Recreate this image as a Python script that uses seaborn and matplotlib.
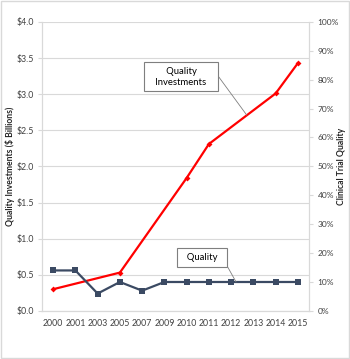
import matplotlib
matplotlib.use("Agg")
import matplotlib.pyplot as plt
import matplotlib.ticker as mticker
from matplotlib.patches import Rectangle
import numpy as np
import pandas as pd
import seaborn as sns

sns.set_theme(style="white")
plt.rcParams["font.family"] = ["Lato", "DejaVu Sans"]

# dati
anni = ["2000", "2001", "2003", "2005", "2007", "2009",
        "2010", "2011", "2012", "2013", "2014", "2015"]
investimenti = [0.30, None, None, 0.53, None, None,
                1.84, 2.31, None, None, 3.01, 3.43]      # $ miliardi
qualita = [0.14, 0.14, 0.06, 0.10, 0.07, 0.10,
           0.10, 0.10, 0.10, 0.10, 0.10, 0.10]           # frazione

df = pd.DataFrame({"anno": anni, "inv": investimenti, "qual": qualita})
df["pos"] = np.arange(len(anni))
df_inv = df.dropna(subset=["inv"])

rosso = "#ff0000"
blu = "#3b4a63"
griglia = "#d9d9d9"
testo = "#404040"

fig = plt.figure(figsize=(3.5, 3.59), dpi=100)
ax = fig.add_axes([0.12, 0.134, 0.763, 0.805])
ax2 = ax.twinx()

sns.lineplot(data=df, x="pos", y="qual", ax=ax2, color=blu, linewidth=1.6,
             marker="s", markersize=4.5, markeredgewidth=0)
sns.lineplot(data=df_inv, x="pos", y="inv", ax=ax, color=rosso, linewidth=1.6,
             marker="D", markersize=3, markeredgewidth=0)

# assi e griglia
ax.set_ylim(0, 4)
ax.set_xlim(-0.5, len(anni) - 0.5)
ax.yaxis.set_major_locator(mticker.MultipleLocator(0.5))
ax.yaxis.set_major_formatter(mticker.FuncFormatter(lambda v, p: f"${v:.1f}"))
ax.grid(axis="y", color=griglia, linewidth=0.8)
ax.set_axisbelow(True)
ax2.set_ylim(0, 1)
ax2.yaxis.set_major_locator(mticker.MultipleLocator(0.1))
ax2.yaxis.set_major_formatter(mticker.PercentFormatter(1.0, decimals=0))

ax.set_xticks(df["pos"])
ax.set_xticklabels(anni)
ax.set_xticks(np.arange(-0.5, len(anni)), minor=True)
ax.tick_params(axis="x", which="major", length=0, labelsize=6.3,
               colors=testo, pad=6)
ax.tick_params(axis="x", which="minor", length=3, color=griglia, width=0.8)
ax.tick_params(axis="y", length=3, color=griglia, width=0.8, labelsize=6.3,
               labelcolor=testo, left=True, pad=3)
ax2.tick_params(axis="y", length=3, color=griglia, width=0.8, labelsize=6.0,
                labelcolor=testo, right=True, pad=3)

ax.set_xlabel("")
ax.set_ylabel("")
ax2.set_ylabel("")
fig.text(10 / 350, 0.536, "Quality Investments ($ Billions)", rotation=90,
         ha="center", va="center", fontsize=6.2, fontweight="bold")
fig.text(341 / 350, 0.536, "Clinical Trial Quality", rotation=90,
         ha="center", va="center", fontsize=6.2, fontweight="bold")

for a in (ax, ax2):
    for s in a.spines.values():
        s.set_color(griglia)
        s.set_linewidth(0.8)
    a.spines["top"].set_visible(False)

# etichette con riquadro
box = dict(boxstyle="square,pad=0.5", fc="white", ec="#7f7f7f", lw=0.8)
ax.annotate("   Quality   \n   Investments   ", xy=(8.7, 2.71),
            xytext=(5.75, 3.24), ha="center", va="center", fontsize=6.8,
            color="black", bbox=box,
            arrowprops=dict(arrowstyle="-", color="#7f7f7f", lw=0.6,
                            shrinkA=0, shrinkB=0, relpos=(1, 0.85)))
ax2.annotate("  Quality  ", xy=(8.22, 0.10), xytext=(6.7, 0.185),
             ha="center", va="center", fontsize=6.8, color="black", bbox=box,
             arrowprops=dict(arrowstyle="-", color="#7f7f7f", lw=0.6,
                             shrinkA=0, shrinkB=0, relpos=(1, 0.5)))

fig.patches.append(Rectangle((0.002, 0.002), 0.996, 0.996,
                             transform=fig.transFigure, fill=False,
                             ec=griglia, lw=1))

fig.savefig("out.png", dpi=100)
